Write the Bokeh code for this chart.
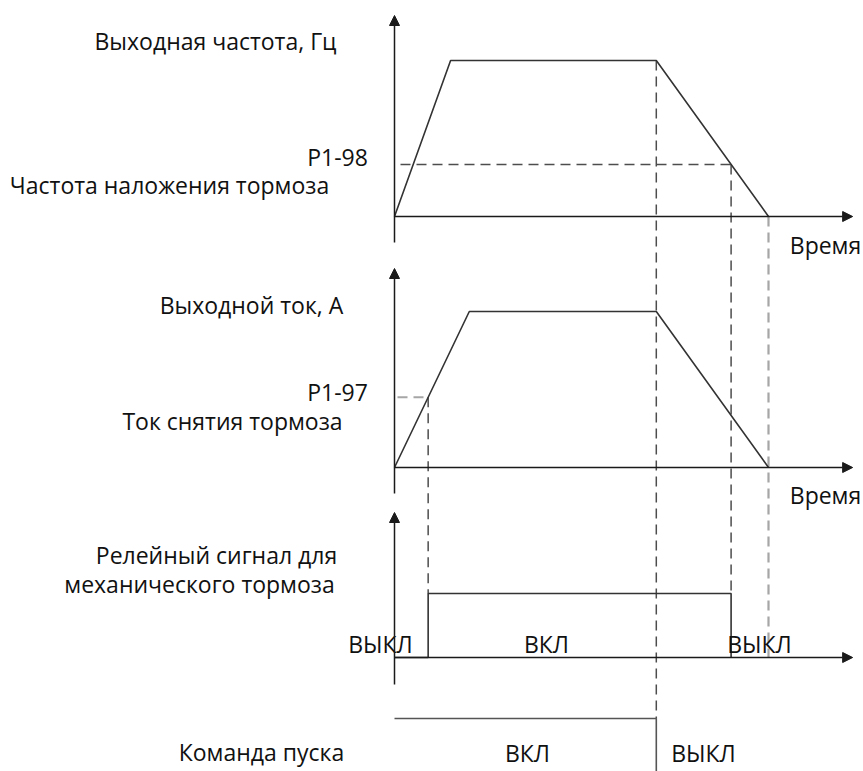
from bokeh.plotting import figure
from bokeh.models import Range1d, Arrow, NormalHead, ColumnDataSource
from bokeh.core.properties import value
from bokeh.embed import file_html
from bokeh.resources import INLINE

# ---------------- data (schematic timing values) ----------------
# time instants (arbitrary time units)
t_release = 0.9     # output current reaches P1-97 -> brake released
t_stop = 7.0        # start command removed, deceleration begins
t_brake = 9.0       # output frequency falls to P1-98 -> brake applied
t_zero = 10.0       # output reaches zero
t_end = 12.25       # end of time axis

# output frequency, Hz
freq_t = [0.0, 1.5, 7.0, 10.0]
freq_v = [0.0, 50.0, 50.0, 0.0]
p198_freq = 16.7    # brake engage frequency (P1-98)

# output current, A
cur_t = [0.0, 2.0, 7.0, 10.0]
cur_v = [0.0, 10.0, 10.0, 0.0]
p197_cur = 4.5      # brake release current (P1-97)

# relay signal for mechanical brake (0 = OFF, 1 = ON)
relay_t = [0.0, 0.9, 0.9, 9.0, 9.0]
relay_v = [0, 0, 1, 1, 0]

# start command (1 = ON, 0 = OFF)
start_t = [0.0, 7.0, 7.0]
start_v = [1, 1, 0]

# ---------------- layout (pixel geometry of the diagram) ----------------
X0, XS = 394.0, 37.4            # pixel of t=0, pixels per time unit
def px2t(px):
    return (px - X0) / XS

FREQ = dict(base=216, scale=156 / 50.0, top=15, bottom=242)
CUR = dict(base=467, scale=156 / 10.0, top=268, bottom=493)
RELAY = dict(base=657, scale=64.0, top=512, bottom=684)
START = dict(base=782, scale=64.0)

def Y(panel, vals):
    return [panel["base"] - v * panel["scale"] for v in vals]

W, H = 863, 771
p = figure(width=W, height=H, output_backend="svg", toolbar_location=None,
           x_range=Range1d(px2t(0), px2t(W)), y_range=Range1d(H, 0),
           min_border=0, outline_line_color=None,
           background_fill_color="white", border_fill_color="white")
p.axis.visible = False
p.grid.visible = False

AX = "#1a1a1a"
CURVE = "#333333"
DASH = "#4d4d4d"
LIGHT = "#a6a6a6"
DP = "10 6"

# ---------- axes with arrows ----------
for panel in (FREQ, CUR, RELAY):
    p.add_layout(Arrow(end=NormalHead(size=10, fill_color=AX, line_color=AX, line_width=1),
                       x_start=0, y_start=panel["bottom"], x_end=0, y_end=panel["top"],
                       line_color=AX, line_width=1.5))
    p.add_layout(Arrow(end=NormalHead(size=10, fill_color=AX, line_color=AX, line_width=1),
                       x_start=0, y_start=panel["base"], x_end=t_end, y_end=panel["base"],
                       line_color=AX, line_width=1.5))

# ---------- dashed guide lines ----------
# P1-98 horizontal level
p.line([px2t(400), t_brake], Y(FREQ, [p198_freq, p198_freq]), line_color=DASH,
       line_width=1.5, line_dash=DP)
# P1-97 horizontal level
p.line([px2t(397), t_release], Y(CUR, [p197_cur, p197_cur]), line_color=LIGHT,
       line_width=2, line_dash=DP)
# t_stop: from frequency plateau down to start command
p.line([t_stop, t_stop], [Y(FREQ, [50.0])[0], Y(START, [1])[0]], line_color=DASH,
       line_width=1.5, line_dash=DP)
# t_brake: from P1-98 down to relay ON level
p.line([t_brake, t_brake], [Y(FREQ, [p198_freq])[0], Y(RELAY, [1])[0]], line_color=DASH,
       line_width=1.5, line_dash=DP)
# t_zero: from frequency zero down to relay baseline
p.line([t_zero, t_zero], [Y(FREQ, [0])[0], Y(RELAY, [0])[0]], line_color=LIGHT,
       line_width=2.2, line_dash=DP)
# t_release: from P1-97 down to relay ON level
p.line([t_release, t_release], [Y(CUR, [p197_cur])[0], Y(RELAY, [1])[0]], line_color=DASH,
       line_width=1.5, line_dash=DP)

# ---------- signals ----------
p.line(freq_t, Y(FREQ, freq_v), line_color=CURVE, line_width=1.6)
p.line(cur_t, Y(CUR, cur_v), line_color=CURVE, line_width=1.6)
p.line(relay_t, Y(RELAY, relay_v), line_color=CURVE, line_width=1.6)
p.line(start_t, Y(START, start_v), line_color="#555555", line_width=1.6)

# ---------- texts ----------
TXT_DY = -9   # compensation for the SVG text baseline placement
labels = [
    ("Выходная частота, Гц", 215, 49),
    ("P1-98", 337, 165),
    ("Частота наложения тормоза", 169, 193),
    ("Выходной ток, А", 251, 313),
    ("P1-97", 337, 400),
    ("Ток снятия тормоза", 232, 429),
    ("Релейный сигнал для", 216, 563),
    ("механического тормоза", 199, 592),
    ("ВЫКЛ", 380, 652),
    ("ВКЛ", 546, 652),
    ("ВЫКЛ", 759, 652),
    ("Команда пуска", 261, 760),
    ("ВКЛ", 527, 761),
    ("ВЫКЛ", 703, 761),
    ("Время", 825, 253),
    ("Время", 825, 503),
]
src = ColumnDataSource(dict(x=[px2t(l[1]) for l in labels], y=[l[2] + TXT_DY for l in labels],
                            text=[l[0] for l in labels]))
p.text(x="x", y="y", text="text", source=src, text_font=value("Open Sans"),
       text_font_size="23px", text_align="center", text_baseline="alphabetic",
       text_color="#111111")

open("out.html", "w").write(file_html(p, INLINE))
